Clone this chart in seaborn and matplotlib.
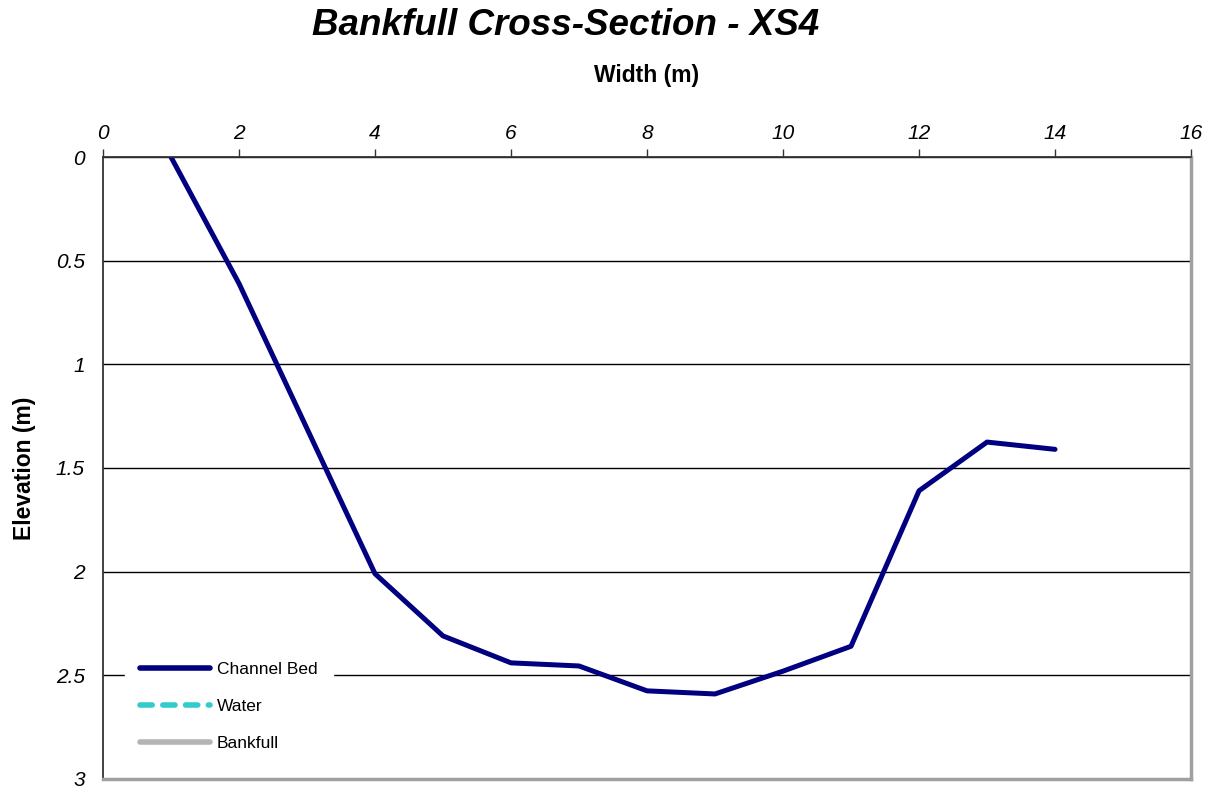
import pandas as pd
import seaborn as sns
import matplotlib.pyplot as plt
from matplotlib.lines import Line2D

width_m = [1, 2, 3, 4, 5, 6, 7, 8, 9, 10, 11, 12, 13, 14]
elevation_m = [0.0, 0.61, 1.31, 2.01, 2.31, 2.44, 2.455, 2.575, 2.59, 2.48, 2.36, 1.61, 1.375, 1.41]
x_ticks = [0, 2, 4, 6, 8, 10, 12, 14, 16]
y_ticks = [0, 0.5, 1, 1.5, 2, 2.5, 3]
y_tick_labels = ['0', '0.5', '1', '1.5', '2', '2.5', '3']
legend_labels = ['Channel Bed', 'Water', 'Bankfull']

df = pd.DataFrame({'Width': width_m, 'Elevation': elevation_m})

sns.set_style("white")
plt.rcParams['font.family'] = ['Liberation Sans', 'DejaVu Sans']
plt.rcParams['text.color'] = 'black'
plt.rcParams['axes.labelcolor'] = 'black'

fig = plt.figure(figsize=(12.13, 7.93), dpi=100)
ax = fig.add_axes([0.0849, 0.0177, 0.897, 0.7843])

sns.lineplot(x='Width', y='Elevation', data=df, ax=ax, color='#000080',
             linewidth=3.6, sort=False, legend=False)

ax.set_xlim(0, 16)
ax.set_ylim(3, 0)
ax.set_xticks(x_ticks)
ax.set_yticks(y_ticks)
ax.set_xticklabels([str(t) for t in x_ticks], fontstyle='italic', fontsize=15)
ax.set_yticklabels(y_tick_labels, fontstyle='italic', fontsize=15)
ax.xaxis.tick_top()
ax.xaxis.set_label_position('top')
ax.tick_params(axis='x', direction='out', length=6, width=1, color='#333333',
               labelcolor='black', pad=4)
ax.tick_params(axis='y', direction='out', length=6, width=1, color='#333333',
               labelcolor='black', pad=7)

ax.yaxis.grid(True, color='black', linewidth=1)
ax.xaxis.grid(False)
ax.set_axisbelow(True)

for side in ['top', 'left']:
    ax.spines[side].set_color('#333333')
    ax.spines[side].set_linewidth(1.3)
for side in ['right', 'bottom']:
    ax.spines[side].set_color('#a0a0a0')
    ax.spines[side].set_linewidth(2.5)

ax.set_xlabel('Width (m)', fontsize=16.5, fontweight='bold', labelpad=30)
ax.set_ylabel('Elevation (m)', fontsize=16.5, fontweight='bold', labelpad=14)

fig.text(0.466, 0.968, 'Bankfull Cross-Section - XS4', fontsize=26.5, fontweight='bold',
         fontstyle='italic', ha='center', va='center')

handles = [
    Line2D([0], [0], color='#000080', linewidth=4, solid_capstyle='round'),
    Line2D([0], [0], color='#33cccc', linewidth=4, linestyle=(0, (2.2, 1.9)),
           dash_capstyle='round'),
    Line2D([0], [0], color='#b4b4b4', linewidth=4, solid_capstyle='round'),
]
leg = ax.legend(handles, legend_labels, loc='lower left',
                bbox_to_anchor=(0.02, 0.02), borderaxespad=0, frameon=True,
                fontsize=12.5, handlelength=4.0, handletextpad=0.4, labelspacing=1.25,
                borderpad=0.9, fancybox=False)
leg.get_frame().set_facecolor('white')
leg.get_frame().set_edgecolor('white')
leg.get_frame().set_alpha(1)

fig.savefig('out.png', dpi=100)
